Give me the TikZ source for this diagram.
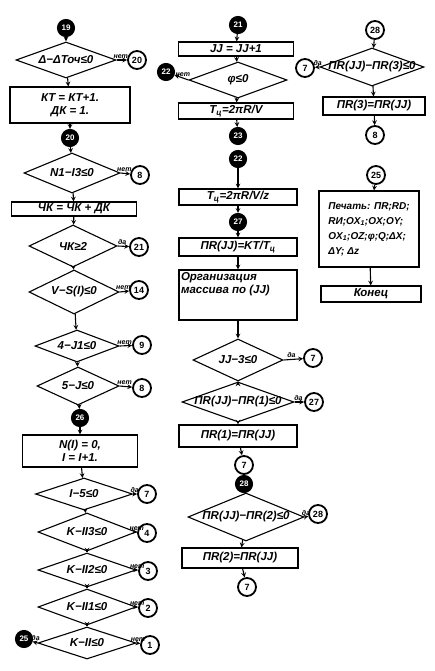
\documentclass[tikz,border=0pt]{standalone}
\usepackage{fontspec}
\setmainfont{Liberation Sans}
\usetikzlibrary{shapes.geometric}
\begin{document}
\begin{tikzpicture}[>=stealth,line width=1.1pt,x=1pt,y=-1pt,
  font=\bfseries\itshape\fontsize{11.5}{13}\selectfont,
  box/.style={draw,minimum width=#1,minimum height=14pt,inner sep=1pt,align=center},
  cond/.style args={#1/#2}{diamond,draw,minimum width=#1pt,minimum height=#2pt,inner sep=0pt},
  on/.style={circle,draw,fill=black,text=white,minimum size=17pt,inner sep=0pt,font=\bfseries\footnotesize},
  off/.style={circle,draw,line width=1.8pt,fill=white,minimum size=18pt,inner sep=0pt,font=\bfseries\small},
  tag/.style={font=\bfseries\itshape\fontsize{7}{7}\selectfont,above,inner sep=1pt,pos=0.4}]
\useasboundingbox (0,0) rectangle (434,671);
\node[on] (c19) at (66,28) {19};
\node[cond=100/36,label=center:{Δ−ΔТоч≤0}] (d1) at (66,60) {};
\node[off] (e20) at (137,60) {20};
\node[box=120pt,minimum height=36pt] (b1) at (70,105) {КТ = КТ+1.\\ДК = 1.};
\node[on] (c20) at (70,138) {20};
\node[cond=96/40,label=center:{N1−I3≤0}] (d2) at (72,173) {};
\node[off] (e8a) at (140,175) {8};
\node[box=125pt] (b2) at (74,209) {ЧК = ЧК + ДК};
\node[cond=88/42,label=center:{ЧК≥2}] (d3) at (73,246) {};
\node[off] (e21) at (139,247) {21};
\node[cond=90/44,label=center:{V−S(I)≤0}] (d4) at (74,292) {};
\node[off] (e14) at (139,290) {14};
\node[cond=84/32,label=center:{4−J1≤0}] (d5) at (77,346) {};
\node[off] (e9) at (142,345) {9};
\node[cond=82/38,label=center:{5−J≤0}] (d6) at (78,386) {};
\node[off] (e8b) at (142,388) {8};
\node[on] (c26) at (80,418) {26};
\node[box=115pt,minimum height=32pt] (b3) at (80,451) {N(I) = 0,\\I = I+1.};
\node[cond=97/32,label=center:{I−5≤0}] (d7) at (84,494) {};
\node[off] (e7a) at (147,494) {7};
\node[cond=98/38,label=center:{K−II3≤0}] (d8) at (87,532) {};
\node[off] (e4) at (147,533) {4};
\node[cond=98/34,label=center:{K−II2≤0}] (d9) at (87,570) {};
\node[off] (e3) at (148,571) {3};
\node[cond=98/36,label=center:{K−II1≤0}] (d10) at (87,607) {};
\node[off] (e2) at (148,608) {2};
\node[cond=98/32,label=center:{K−II≤0}] (d11) at (87,643) {};
\node[off] (e1) at (150,645) {1};
\node[on] (c25) at (24,639) {25};
\node[on] (c21) at (238,25) {21};
\node[box=115pt] (b4) at (236,49) {JJ = JJ+1};
\node[cond=98/36,label=center:{φ≤0}] (d12) at (238,80) {};
\node[on] (c22a) at (166,72) {22};
\node[box=115pt,minimum height=16pt] (b5) at (236,111) {T\textsubscript{ц}=2πR/V};
\node[on] (c23) at (238,136) {23};
\node[on] (c22b) at (238,159) {22};
\node[box=118pt,minimum height=16pt] (b6) at (238,197) {T\textsubscript{ц}=2πR/V/z};
\node[on] (c27) at (238,222) {27};
\node[box=118pt,minimum height=18pt] (b7) at (238,247) {ПR(JJ)=KT/T\textsubscript{ц}};
\node[box=118pt,minimum height=50pt,label={[anchor=north west,align=left,inner sep=2pt]north west:Организация\\массива по (JJ)}] (b8) at (238,295) {};
\node[cond=90/42,label=center:{JJ−3≤0}] (d13) at (238,360) {};
\node[off] (e7b) at (313,358) {7};
\node[cond=112/40,label=center:{ПR(JJ)−ПR(1)≤0}] (d14) at (238,402) {};
\node[off] (e27) at (314,402) {27};
\node[box=118pt,minimum height=22pt] (b9) at (238,436) {ПR(1)=ПR(JJ)};
\node[off] (c7c) at (244,465) {7};
\node[on] (c28) at (244,484) {28};
\node[cond=116/48,label=center:{ПR(JJ)−ПR(2)≤0}] (d15) at (246,517) {};
\node[off] (e28) at (318,514) {28};
\node[box=116pt,minimum height=20pt] (b10) at (240,558) {ПR(2)=ПR(JJ)};
\node[off] (c7d) at (247,587) {7};
\node[off] (c28b) at (375,30) {28};
\node[cond=104/38,label=center:{ПR(JJ)−ПR(3)≤0}] (d16) at (372,67) {};
\node[off] (e7e) at (305,68) {7};
\node[box=102pt,minimum height=18pt] (b11) at (374,106) {ПR(3)=ПR(JJ)};
\node[off] (c8) at (375,135) {8};
\node[off] (c25b) at (376,175) {25};
\node[box=100pt,minimum height=76pt,align=left,font=\bfseries\itshape\fontsize{10}{15}\selectfont] (b12) at (369,229) {Печать: ПR;RD;\\RИ;OX\textsubscript{1};OX;OY;\\OX\textsubscript{1};OZ;φ;Q;ΔX;\\ΔY; Δz};
\node[box=100pt,minimum height=16pt] (b13) at (371,294) {Конец};
\foreach \a/\b in {c19/d1,d1/b1,b1/c20,c20/d2,d2/b2,b2/d3,d3/d4,d4/d5,d5/d6,d6/c26,c26/b3,b3/d7,d7/d8,d8/d9,d9/d10,d10/d11,
  c21/b4,b4/d12,d12/b5,b5/c23,c22b/b6,b6/c27,c27/b7,b7/b8,b8/d13,d13/d14,d14/b9,b9/c7c,c28/d15,d15/b10,b10/c7d,
  c28b/d16,d16/b11,b11/c8,c25b/b12,b12/b13}
  \draw[->] (\a) -- (\b);
\foreach \d/\e/\t in {d1/e20/нет,d2/e8a/нет,d3/e21/да,d4/e14/нет,d5/e9/нет,d6/e8b/нет,d7/e7a/да,d8/e4/нет,d9/e3/нет,
  d10/e2/нет,d11/e1/нет,d13/e7b/да,d14/e27/да,d15/e28/да}
  \draw[->] (\d.east) -- node[tag]{\t} (\e);
\foreach \d/\e/\t in {d11/c25/да,d12/c22a/нет,d16/e7e/да}
  \draw[->] (\d.west) -- node[tag]{\t} (\e);
\end{tikzpicture}
\end{document}
